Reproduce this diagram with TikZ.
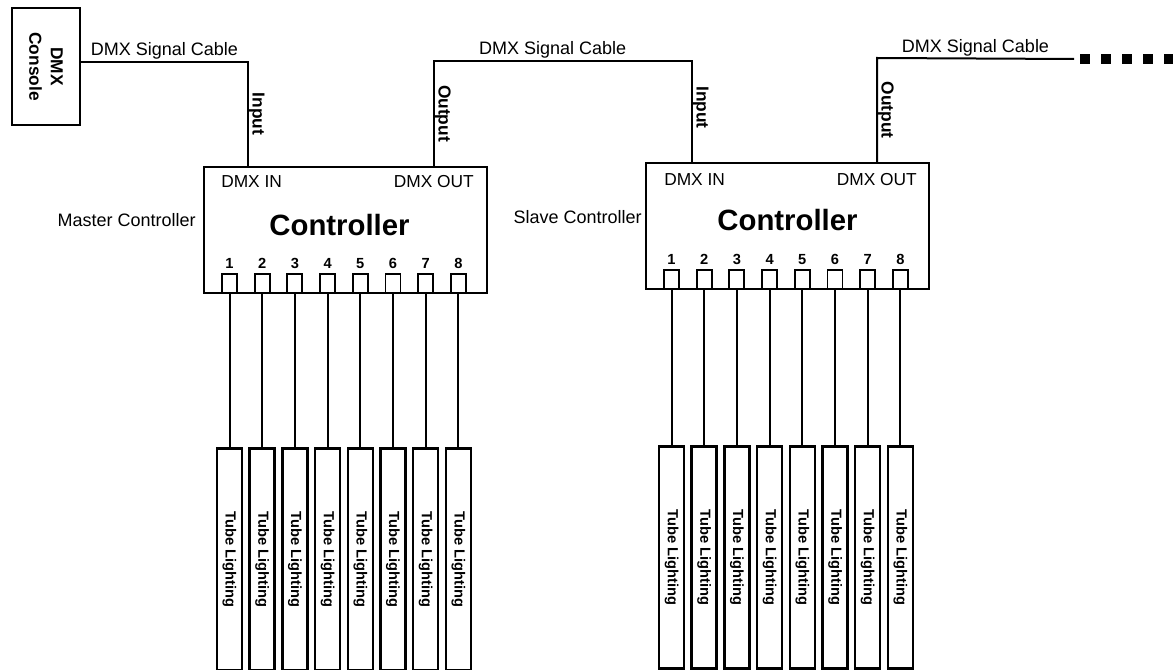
\documentclass[tikz,border=0pt]{standalone}
\usepackage{fontspec}
\setmainfont{Liberation Sans}
\usetikzlibrary{positioning}
\tikzset{
  dmx-box/.style={draw=black, fill=white, line width=1.5pt, inner sep=0pt},
  dmx-ctrl/.style={dmx-box, minimum width=212.25pt, minimum height=94.5pt},
  dmx-port/.style={draw=black, fill=white, line width=1.4pt, inner sep=0pt,
    minimum width=11.25pt, minimum height=14.25pt},
  dmx-tube/.style={draw=black, fill=white, line width=1.9pt, inner sep=0pt, rotate=-90,
    minimum width=166.5pt, minimum height=18.75pt, font=\bfseries\fontsize{11}{13}\selectfont},
  dmx-cable/.style={line width=1.5pt},
  dmx-more/.style={line width=7.5pt, dash pattern=on 7.5pt off 8.25pt},
  dmx-cable-label/.style={font=\fontsize{13.5}{16}\selectfont, inner sep=1pt},
  dmx-port-label/.style={rotate=-90, anchor=south, inner sep=0pt,
    font=\bfseries\fontsize{13}{15}\selectfont},
  dmx-io/.style={font=\fontsize{13}{15}\selectfont, inner sep=0pt},
  dmx-title/.style={font=\bfseries\fontsize{22}{26}\selectfont, inner sep=0pt},
  dmx-num/.style={font=\bfseries\fontsize{11}{13}\selectfont, inner sep=1pt},
  dmx-side/.style={font=\fontsize{13.5}{16}\selectfont, inner sep=0pt}
}
\begin{document}
\begin{tikzpicture}[x=0.75pt, y=-0.75pt]
  \useasboundingbox (0,0) rectangle (1173,670);
  \fill[white] (0,0) rectangle (1173,670);

  % console and the two controllers
  \node[dmx-box, rotate=-90, minimum width=87.75pt, minimum height=51pt, align=center,
    font=\bfseries\fontsize{13}{16}\selectfont] (console) at (46,66.5) {DMX\\Console};
  \node[dmx-ctrl] (master) at (345.5,230) {};
  \node[dmx-ctrl] (slave) at (787.5,226) {};

  \node[dmx-title] (master-title) at ([shift={(-6,-5)}]master.center) {Controller};
  \node[dmx-io, anchor=west] (master-in) at ([shift={(18,16)}]master.north west) {DMX IN};
  \node[dmx-io, anchor=east] (master-out) at ([shift={(-14,16)}]master.north east) {DMX OUT};
  \node[dmx-side, anchor=east] (master-label) at ([shift={(-7,-10)}]master.west) {Master Controller};

  \node[dmx-title] (slave-title) at ([shift={(0,-6)}]slave.center) {Controller};
  \node[dmx-io, anchor=west] (slave-in) at ([shift={(19,18)}]slave.north west) {DMX IN};
  \node[dmx-io, anchor=east] (slave-out) at ([shift={(-13,18)}]slave.north east) {DMX OUT};
  \node[dmx-side, anchor=east] (slave-label) at ([shift={(-3,-9)}]slave.west) {Slave Controller};

  % signal cables
  \draw[dmx-cable] ([yshift=3.4pt]console.north) -|
    node[dmx-cable-label, pos=0.25, above] {DMX Signal Cable}
    node[dmx-port-label, pos=0.75] {Input} ([xshift=33.75pt]master.north west);
  \draw[dmx-cable] ([xshift=-40.5pt]master.north east) -- node[dmx-port-label] {Output} ++(0,-105) -|
    node[dmx-cable-label, pos=0.23, above] {DMX Signal Cable}
    node[dmx-port-label, pos=0.73] {Input} ([xshift=35.25pt]slave.north west);
  \coordinate (chain-end) at (1074,59);
  \draw[dmx-cable] ([xshift=-39.75pt]slave.north east) -- node[dmx-port-label] {Output} ++(0,-104)
    -- node[dmx-cable-label, above] {DMX Signal Cable} (chain-end);
  \draw[dmx-more] ([xshift=4.5pt]chain-end) -- ++(93,0);

  % output ports and tubes
  \foreach \ctl/\gap in {master/114.75pt, slave/116.25pt} {
    \foreach \i in {1,...,8} {
      \node[dmx-port, anchor=south] (\ctl-port-\i) at ([shift={({26.5+(\i-1)*32.7},0)}]\ctl.south west) {};
      \node[dmx-num, above=2.5pt of \ctl-port-\i] (\ctl-num-\i) {\i};
      \node[dmx-tube, anchor=west] (\ctl-tube-\i) at ([yshift=-\gap]\ctl-port-\i.south) {Tube Lighting};
      \draw[dmx-cable] (\ctl-port-\i.south) -- (\ctl-tube-\i.west);
    }
  }
\end{tikzpicture}
\end{document}
